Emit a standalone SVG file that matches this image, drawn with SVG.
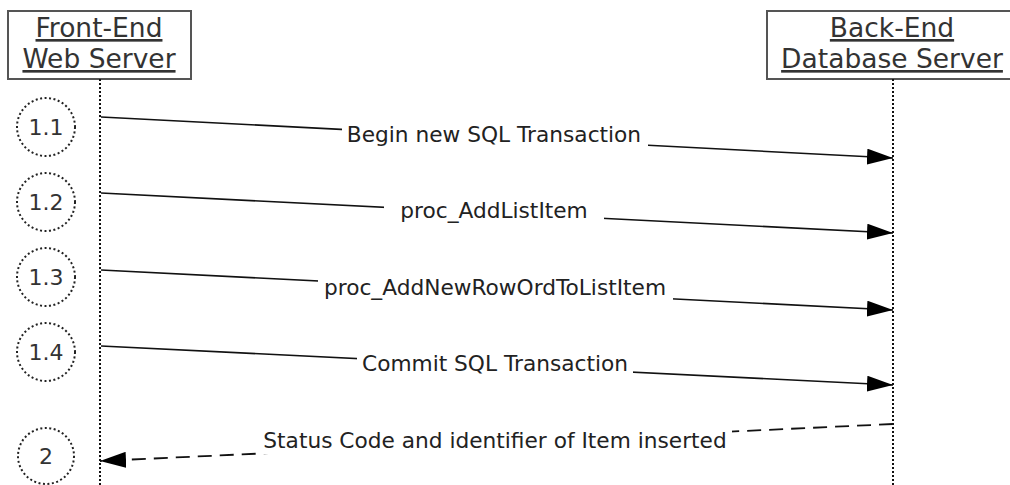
<svg xmlns="http://www.w3.org/2000/svg" width="1010" height="485" viewBox="0 0 1010 485">
<style>
.box{fill:#fff;stroke:#555;stroke-width:2}
.title{font-family:"DejaVu Sans",Verdana,sans-serif;font-size:26.5px;fill:#333;text-anchor:middle;text-decoration:underline}
.life{stroke:#111;stroke-width:2;stroke-dasharray:2 2;fill:none}
.step{fill:#fff;stroke:#222;stroke-width:2;stroke-dasharray:2 2.5}
.num{font-family:"DejaVu Sans",Verdana,sans-serif;font-size:22px;fill:#333;text-anchor:middle}
.msg{stroke:#111;stroke-width:1.6;fill:none}
.ret{stroke:#111;stroke-width:1.8;fill:none;stroke-dasharray:14 8}
.lbl{font-family:"DejaVu Sans",Verdana,sans-serif;font-size:21.7px;fill:#222;text-anchor:middle}
.bg{fill:#fff}
</style>
<defs>
<marker id="ah" viewBox="0 0 26 16" refX="26" refY="8" markerWidth="26" markerHeight="16" markerUnits="userSpaceOnUse" orient="auto">
<path d="M0,0 L26,8 L0,16 Z" fill="#000"/>
</marker>
</defs>
<g id="frontend">
<rect class="box" x="8" y="11" width="183" height="68"/>
<text class="title" x="99" y="37">Front-End</text>
<text class="title" x="99" y="68">Web Server</text>
<line class="life" x1="100" y1="79" x2="100" y2="485"/>
</g>
<g id="backend">
<rect class="box" x="767" y="11" width="260" height="68"/>
<text class="title" x="892" y="37">Back-End</text>
<text class="title" x="892" y="68">Database Server</text>
<line class="life" x1="893" y1="79" x2="893" y2="485"/>
</g>
<g id="step11"><circle class="step" cx="46" cy="127" r="29"/><text class="num" x="46" y="135">1.1</text></g>
<g id="step12"><circle class="step" cx="46" cy="202" r="29"/><text class="num" x="46" y="210">1.2</text></g>
<g id="step13"><circle class="step" cx="46" cy="277" r="29"/><text class="num" x="46" y="285">1.3</text></g>
<g id="step14"><circle class="step" cx="46" cy="352" r="29"/><text class="num" x="46" y="360">1.4</text></g>
<g id="step2"><circle class="step" cx="46" cy="456" r="28"/><text class="num" x="46" y="464">2</text></g>
<g id="connectors">
<line class="msg" x1="101" y1="117" x2="893" y2="158" marker-end="url(#ah)"/>
<rect class="bg" x="342" y="124" width="306" height="24"/>
<text class="lbl" x="494" y="142">Begin new SQL Transaction</text>
<line class="msg" x1="101" y1="193" x2="893" y2="233" marker-end="url(#ah)"/>
<rect class="bg" x="384" y="200" width="220" height="24"/>
<text class="lbl" x="494" y="218">proc_AddListItem</text>
<line class="msg" x1="101" y1="270" x2="893" y2="310" marker-end="url(#ah)"/>
<rect class="bg" x="318" y="277" width="355" height="24"/>
<text class="lbl" x="495" y="295">proc_AddNewRowOrdToListItem</text>
<line class="msg" x1="101" y1="346" x2="893" y2="385" marker-end="url(#ah)"/>
<rect class="bg" x="357" y="353" width="276" height="24"/>
<text class="lbl" x="495" y="371">Commit SQL Transaction</text>
<line class="ret" x1="893" y1="424" x2="100" y2="461" marker-end="url(#ah)"/>
<rect class="bg" x="259" y="430" width="473" height="24"/>
<text class="lbl" x="495" y="448">Status Code and identifier of Item inserted</text>
</g>
</svg>
